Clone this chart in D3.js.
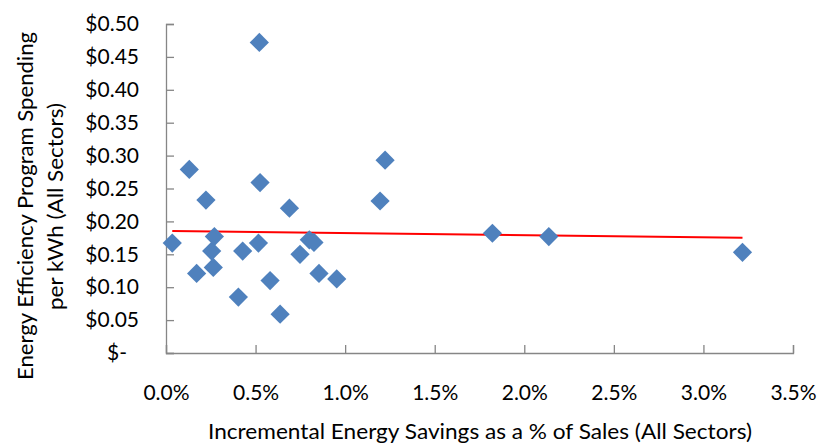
<!DOCTYPE html>
<html><head><meta charset="utf-8">
<script src="https://cdn.jsdelivr.net/npm/d3@7"></script>
<style>
body{margin:0;background:#fff;}
text{font-family:Lato,"Open Sans",sans-serif;fill:#000;}
</style></head>
<body>
<svg id="c" width="820" height="443"></svg>
<script>
const savingsPct = [0.035,0.130,0.171,0.223,0.255,0.264,0.270,0.404,0.428,0.516,0.521,0.525,0.581,0.637,0.689,0.748,0.800,0.826,0.854,0.953,1.195,1.223,1.822,2.137,3.218];
const spendPerKWh = [0.167,0.279,0.121,0.2325,0.155,0.130,0.177,0.085,0.155,0.167,0.472,0.259,0.110,0.059,0.220,0.150,0.172,0.168,0.121,0.1125,0.231,0.293,0.182,0.177,0.153];
const trendX = [0.035, 3.218];
const trendY = [0.1854, 0.1752];
const xTicks = [0,0.5,1.0,1.5,2.0,2.5,3.0,3.5];
const yTicks = [0,0.05,0.10,0.15,0.20,0.25,0.30,0.35,0.40,0.45,0.50];
const xTitle = "Incremental Energy Savings as a % of Sales (All Sectors)";
const yTitle = ["Energy Efficiency Program Spending","per kWh (All Sectors)"];

const svg = d3.select("#c");
const L=166, R=793, T=24, B=353;
const x = d3.scaleLinear().domain([0,3.5]).range([L,R]);
const y = d3.scaleLinear().domain([0,0.5]).range([B,T]);
const fs = 21;

const gx = svg.append("g").attr("transform",`translate(0,${B})`)
  .call(d3.axisBottom(x).tickValues(xTicks).tickSize(-8).tickPadding(32).tickFormat(d=>d.toFixed(1)+"%"));
const gy = svg.append("g").attr("transform",`translate(${L},0)`)
  .call(d3.axisLeft(y).tickValues(yTicks).tickSize(-8).tickPadding(27).tickFormat(d=>d===0?"$-":"$"+d.toFixed(2)));
[gx,gy].forEach(g=>{
  g.select(".domain").attr("stroke","#868686").attr("stroke-width",1.3);
  g.selectAll(".tick line").attr("stroke","#868686").attr("stroke-width",1.3);
  g.selectAll("text").attr("font-size",fs).attr("font-family","Lato").attr("fill","#000");
});
gy.selectAll(".tick text").filter(d=>d===0).attr("dx",-12);

// trend line
svg.append("line")
  .attr("x1",x(trendX[0])).attr("y1",y(trendY[0]))
  .attr("x2",x(trendX[1])).attr("y2",y(trendY[1]))
  .attr("stroke","#ff0000").attr("stroke-width",2);

const pts = savingsPct.map((v,i)=>({x:v,y:spendPerKWh[i]}));
const sym = d3.symbol().type(d3.symbolSquare).size(185);
svg.append("g").selectAll("path").data(pts).join("path")
  .attr("d",sym)
  .attr("transform",d=>`translate(${x(d.x)},${y(d.y)}) rotate(45)`)
  .attr("fill","#4f81bd");

svg.append("text").attr("x",208).attr("y",439).attr("font-size",22)
  .attr("textLength",544).attr("lengthAdjust","spacingAndGlyphs").text(xTitle);
const yt = svg.append("text").attr("transform","translate(0,0) rotate(-90)").attr("font-size",22);
yt.append("tspan").attr("x",-380).attr("y",33).attr("textLength",348).attr("lengthAdjust","spacingAndGlyphs").text(yTitle[0]);
yt.append("tspan").attr("x",-310).attr("y",63).attr("textLength",207).attr("lengthAdjust","spacingAndGlyphs").text(yTitle[1]);
</script>
</body></html>
